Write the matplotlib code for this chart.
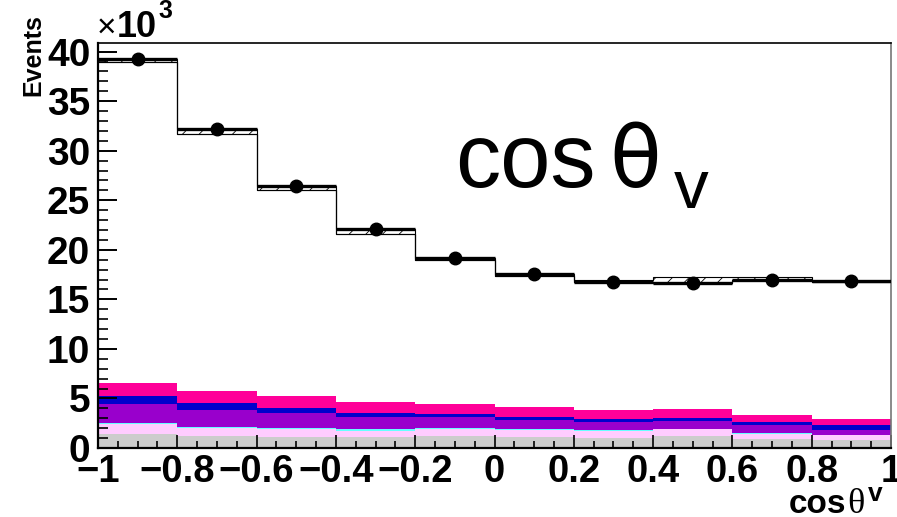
import numpy as np
import matplotlib
matplotlib.use("Agg")
import matplotlib.pyplot as plt
from matplotlib.ticker import MultipleLocator, FuncFormatter

plt.rcParams['font.family'] = ['Liberation Sans', 'DejaVu Sans']
plt.rcParams['hatch.linewidth'] = 0.6

# ---- data (units of 10^3 events) ----
edges = [-1.0, -0.8, -0.6, -0.4, -0.2, 0.0, 0.2, 0.4, 0.6, 0.8, 1.0]
data = [39.3, 32.2, 26.45, 22.05, 19.22, 17.55, 16.8, 16.7, 16.97, 16.83]
mc_band_lo = [38.95, 31.68, 25.99, 21.62, 18.99, 17.37, 16.78, 16.70, 16.97, 16.80]
mc_band_hi = [39.30, 32.19, 26.43, 22.05, 19.22, 17.58, 16.92, 17.24, 17.30, 16.88]

bkg_gray = [1.41, 1.25, 1.14, 1.14, 1.21, 1.14, 1.04, 1.25, 0.91, 0.81]
bkg_pink = [1.01, 0.74, 0.75, 0.58, 0.68, 0.64, 0.64, 0.64, 0.54, 0.47]
bkg_cyan = [0.14, 0.13, 0.13, 0.17, 0.16, 0.11, 0.10, 0.06, 0.10, 0.07]
bkg_purple = [1.88, 1.72, 1.48, 1.24, 1.08, 0.94, 0.85, 0.78, 0.74, 0.47]
bkg_blue = [0.81, 0.71, 0.54, 0.44, 0.34, 0.30, 0.30, 0.33, 0.34, 0.47]
bkg_magenta = [1.28, 1.21, 1.21, 1.04, 1.01, 0.98, 0.91, 0.88, 0.67, 0.61]

components = [bkg_gray, bkg_pink, bkg_cyan, bkg_purple, bkg_blue, bkg_magenta]
colors = ['#cccccc', '#ffccff', '#66ffff', '#9900cc', '#0000cc', '#ff0099']

W, H = 897, 517
fig = plt.figure(figsize=(W / 100, H / 100), dpi=100)
L, R, T, B = 98, 891, 43, 448
ax = fig.add_axes([L / W, (H - B) / H, (R - L) / W, (B - T) / H])

edges_a = np.array(edges)
centers = 0.5 * (edges_a[:-1] + edges_a[1:])
halfw = 0.5 * np.diff(edges_a)

base = np.zeros(len(data))
for comp, col in zip(components, colors):
    top = base + np.array(comp)
    ax.stairs(top, edges_a, baseline=base, fill=True, color=col, lw=0, zorder=1)
    base = top

# MC band (hatched)
ax.stairs(np.array(mc_band_hi), edges_a, baseline=np.array(mc_band_lo), fill=True,
          facecolor='none', edgecolor='black', hatch='//', lw=0.8, zorder=2)
ax.stairs(np.array(mc_band_lo), edges_a, baseline=None, color='black', lw=0.8, zorder=2)

# data
ax.errorbar(centers, data, xerr=halfw, fmt='o', color='black', ms=9,
            elinewidth=2.4, capsize=0, zorder=3)

ax.set_xlim(-1, 1)
ax.set_ylim(0, 40.87)

ax.xaxis.set_major_locator(MultipleLocator(0.2))
ax.xaxis.set_minor_locator(MultipleLocator(0.05))
ax.yaxis.set_major_locator(MultipleLocator(5))
ax.yaxis.set_minor_locator(MultipleLocator(1))

def xfmt(v, pos):
    if abs(v) < 1e-9:
        return '0'
    s = ('%g' % round(v, 2))
    return s.replace('-', '\u2212')

ax.xaxis.set_major_formatter(FuncFormatter(xfmt))
ax.yaxis.set_major_formatter(FuncFormatter(lambda v, p: '%d' % round(v)))

ax.tick_params(axis='both', which='both', direction='in', top=False, right=False)
ax.tick_params(axis='y', which='major', length=13.7, width=1.4, pad=5.5)
ax.tick_params(axis='y', which='minor', length=7.0, width=1.2)
ax.tick_params(axis='x', which='major', length=9.4, width=1.2, pad=4)
ax.tick_params(axis='x', which='minor', length=5.0, width=1.2)
for lab in ax.get_xticklabels():
    lab.set_fontsize(27.5)
    lab.set_fontweight('bold')
for lab in ax.get_yticklabels():
    lab.set_fontsize(28)
    lab.set_fontweight('bold')

ax.spines['left'].set_linewidth(1.6)
ax.spines['bottom'].set_linewidth(1.6)
ax.spines['top'].set_linewidth(1.2)
ax.spines['right'].set_linewidth(1.2)
ax.spines['right'].set_color('#777777')

def px(x, y):
    return x / W, (H - y) / H

# Big title text
fig.text(*px(455, 187), 'cos', fontsize=65, ha='left', va='baseline')
fig.text(*px(609, 187), '\u03b8', fontsize=61, family=['DejaVu Sans'], ha='left', va='baseline')
fig.text(*px(674, 208), 'v', fontsize=50, ha='left', va='baseline')

# x-axis label
fig.text(*px(789, 513), 'cos', fontsize=24, fontweight='bold', ha='left', va='baseline')
fig.text(*px(847, 513), '\u03b8', fontsize=26, family=['Liberation Serif', 'DejaVu Serif'],
         ha='left', va='baseline')
fig.text(*px(868, 501), 'v', fontsize=19, fontweight='bold', ha='left', va='baseline')

# y-axis label
fig.text(*px(33, 14), 'Events', fontsize=18, fontweight='bold', rotation=90, ha='center', va='top')

# x10^3
fig.text(*px(97, 37), '\u00d7', fontsize=24, ha='left', va='baseline')
fig.text(*px(117, 37), '10', fontsize=26, fontweight='bold', ha='left', va='baseline')
fig.text(*px(158, 18), '3', fontsize=18, fontweight='bold', ha='left', va='baseline')

fig.savefig('out.png', dpi=100)
